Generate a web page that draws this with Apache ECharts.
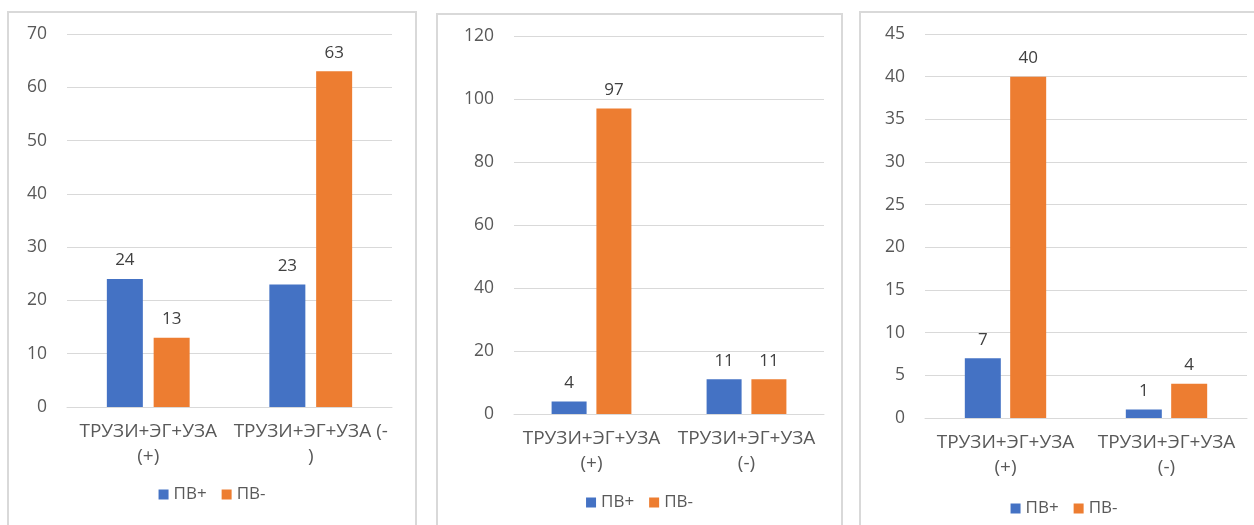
<!DOCTYPE html>
<html>
<head>
<meta charset="utf-8">
<script src="https://cdn.jsdelivr.net/npm/echarts@6/dist/echarts.min.js"></script>
<style>
  html, body { margin: 0; padding: 0; background: #ffffff; }
  body { width: 1254px; height: 525px; position: relative; overflow: hidden; }
  .panel { position: absolute; box-sizing: border-box; border: 2px solid #d9d9d9; border-bottom: none; background: #fff; }
  .panel .chart { position: absolute; left: 0; top: 0; width: 100%; height: 100%; }
</style>
</head>
<body>
<div class="panel" id="p1" style="left:7px; top:11px; width:410px; height:520px;"><div class="chart" id="c1"></div></div>
<div class="panel" id="p2" style="left:436px; top:13px; width:407px; height:520px;"><div class="chart" id="c2"></div></div>
<div class="panel" id="p3" style="left:859px; top:11px; width:410px; height:520px;"><div class="chart" id="c3"></div></div>
<script>
// Series names shared by all three charts
const seriesNames = ['ПВ+', 'ПВ-'];

// Chart 1
const categories1 = ['ТРУЗИ+ЭГ+УЗА\n(+)', 'ТРУЗИ+ЭГ+УЗА (-\n)'];
const pvPlus1 = [24, 23];
const pvMinus1 = [13, 63];
const yTicks1 = { min: 0, max: 70, interval: 10 };

// Chart 2
const categories2 = ['ТРУЗИ+ЭГ+УЗА\n(+)', 'ТРУЗИ+ЭГ+УЗА\n(-)'];
const pvPlus2 = [4, 11];
const pvMinus2 = [97, 11];
const yTicks2 = { min: 0, max: 120, interval: 20 };

// Chart 3
const categories3 = ['ТРУЗИ+ЭГ+УЗА\n(+)', 'ТРУЗИ+ЭГ+УЗА\n(-)'];
const pvPlus3 = [7, 1];
const pvMinus3 = [40, 4];
const yTicks3 = { min: 0, max: 45, interval: 5 };

const BLUE = '#4472C4';
const ORANGE = '#ED7D31';
const FONT = '"Open Sans", "Noto Sans", sans-serif';

function buildOption(cats, plus, minus, ticks, layout) {
  const labelStyle = {
    show: true, position: 'top', distance: 10,
    color: '#404040', fontSize: 17, fontFamily: FONT
  };
  return {
    animation: false,
    textStyle: { fontFamily: FONT },
    grid: { left: layout.left, top: layout.top, width: layout.width, height: layout.height },
    legend: {
      data: seriesNames,
      left: 'center',
      top: layout.legendTop,
      icon: 'rect',
      itemWidth: 10, itemHeight: 10, itemGap: 15,
      textStyle: { color: '#595959', fontSize: 17, fontFamily: FONT }
    },
    xAxis: {
      type: 'category',
      data: cats,
      axisLine: { lineStyle: { color: '#d9d9d9', width: 1 } },
      axisTick: { show: false },
      axisLabel: {
        color: '#595959', fontSize: 19, lineHeight: 25, margin: 12,
        fontFamily: FONT, interval: 0
      }
    },
    yAxis: {
      type: 'value',
      min: ticks.min, max: ticks.max, interval: ticks.interval,
      axisLine: { show: false },
      axisTick: { show: false },
      splitLine: { lineStyle: { color: '#d9d9d9', width: 1 } },
      axisLabel: { color: '#595959', fontSize: 17.5, margin: 20, fontFamily: FONT }
    },
    series: [
      {
        name: seriesNames[0], type: 'bar', data: plus,
        barWidth: layout.barWidth, barGap: layout.barGap,
        itemStyle: { color: BLUE },
        label: labelStyle
      },
      {
        name: seriesNames[1], type: 'bar', data: minus,
        barWidth: layout.barWidth,
        itemStyle: { color: ORANGE },
        label: labelStyle
      }
    ]
  };
}

const charts = [
  ['c1', categories1, pvPlus1, pvMinus1, yTicks1,
    { left: 58, top: 21, width: 325, height: 373, legendTop: 468, barWidth: 36, barGap: '30%' }],
  ['c2', categories2, pvPlus2, pvMinus2, yTicks2,
    { left: 76, top: 21, width: 310, height: 378, legendTop: 474, barWidth: 35, barGap: '28%' }],
  ['c3', categories3, pvPlus3, pvMinus3, yTicks3,
    { left: 64, top: 21, width: 322, height: 384, legendTop: 482, barWidth: 36, barGap: '26%' }]
];

charts.forEach(function (c) {
  const el = document.getElementById(c[0]);
  const chart = echarts.init(el, null, { renderer: 'canvas' });
  chart.setOption(buildOption(c[1], c[2], c[3], c[4], c[5]));
});
</script>
</body>
</html>
